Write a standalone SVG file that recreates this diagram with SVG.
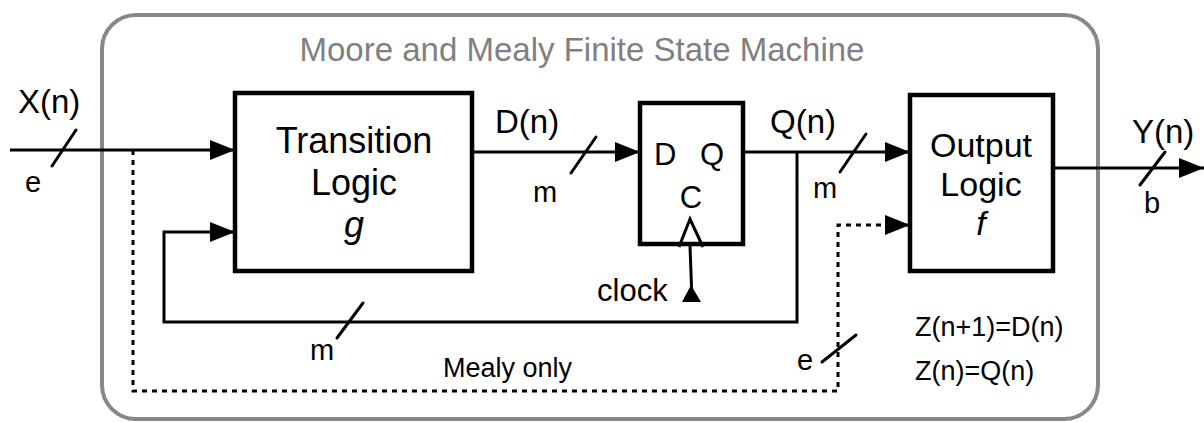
<svg xmlns="http://www.w3.org/2000/svg" width="1204" height="422" viewBox="0 0 1204 422">
<style>
text{font-family:"Liberation Sans",Arial,sans-serif;fill:#000}
.box{fill:#fff;stroke:#000;stroke-width:4.5}
.w{fill:none;stroke:#000;stroke-width:3}
.dot{fill:none;stroke:#000;stroke-width:3;stroke-dasharray:5 5}
.sl{stroke:#000;stroke-width:3;stroke-linecap:round}
.big{font-size:36px}
.ob{font-size:34px}
.lab{font-size:33px}
.sm{font-size:29px}
.eq{font-size:27px}
</style>
<defs>
<marker id="ah" markerUnits="userSpaceOnUse" markerWidth="25" markerHeight="20" refX="25" refY="10" orient="auto" viewBox="0 0 25 20">
<path d="M0,0 L25,10 L0,20 Z" fill="#000" stroke="none"/>
</marker>
</defs>
<g id="frame">
<rect x="102" y="15" width="996" height="404" rx="34" fill="none" stroke="#888" stroke-width="4"/>
<text x="582" y="61" text-anchor="middle" style="font-size:33px;fill:#808080">Moore and Mealy Finite State Machine</text>
</g>
<g id="connectors">
<path class="w" d="M10,150 H235" marker-end="url(#ah)"/>
<path class="w" d="M472,152 H640" marker-end="url(#ah)"/>
<path class="w" d="M743,152 H910" marker-end="url(#ah)"/>
<path class="w" d="M1053,168 H1204" marker-end="url(#ah)"/>
<path class="w" d="M797,152 V322 H164 V232 H235" marker-end="url(#ah)"/>
<path class="dot" d="M133,150 V391 H838 V225 H910" marker-end="url(#ah)"/>
<path class="w" d="M690,246 L692,300"/>
<polygon points="682,302 691,285 701,302" fill="#000"/>
<line class="sl" x1="52" y1="166" x2="76" y2="130"/>
<line class="sl" x1="571" y1="173" x2="596" y2="137"/>
<line class="sl" x1="840" y1="172" x2="866" y2="134"/>
<line class="sl" x1="337" y1="338" x2="363" y2="303"/>
<line class="sl" x1="822" y1="362" x2="856" y2="335"/>
<line class="sl" x1="1140" y1="185" x2="1165" y2="152"/>
</g>
<g id="transition-logic">
<rect class="box" x="235" y="93" width="237" height="178"/>
<text class="big" x="354" y="153" text-anchor="middle">Transition</text>
<text class="big" x="354" y="195" text-anchor="middle">Logic</text>
<text class="big" x="354" y="237" text-anchor="middle" font-style="italic">g</text>
</g>
<g id="flip-flop">
<rect class="box" x="640" y="103" width="103" height="141"/>
<text x="654" y="165" style="font-size:31px">D</text>
<text x="700" y="165" style="font-size:31px">Q</text>
<text x="691" y="208" text-anchor="middle" style="font-size:31px">C</text>
<polyline points="679,247 690,219 703,247" fill="none" stroke="#000" stroke-width="3"/>
</g>
<g id="output-logic">
<rect class="box" x="910" y="95" width="143" height="176"/>
<text class="ob" x="981" y="157" text-anchor="middle">Output</text>
<text class="ob" x="981" y="196" text-anchor="middle">Logic</text>
<text class="ob" x="981" y="235" text-anchor="middle" font-style="italic">f</text>
</g>
<g id="labels">
<text class="lab" x="18" y="113">X(n)</text>
<text class="sm" x="25" y="192">e</text>
<text class="lab" x="495" y="133">D(n)</text>
<text class="sm" x="533" y="202">m</text>
<text class="lab" x="770" y="133">Q(n)</text>
<text class="sm" x="813" y="198">m</text>
<text class="lab" x="1132" y="143">Y(n)</text>
<text class="sm" x="1144" y="213">b</text>
<text x="597" y="301" style="font-size:31px">clock</text>
<text class="sm" x="310" y="360">m</text>
<text class="eq" x="443" y="377">Mealy only</text>
<text class="sm" x="797" y="370">e</text>
<text class="eq" x="915" y="336">Z(n+1)=D(n)</text>
<text class="eq" x="915" y="380">Z(n)=Q(n)</text>
</g>
</svg>
